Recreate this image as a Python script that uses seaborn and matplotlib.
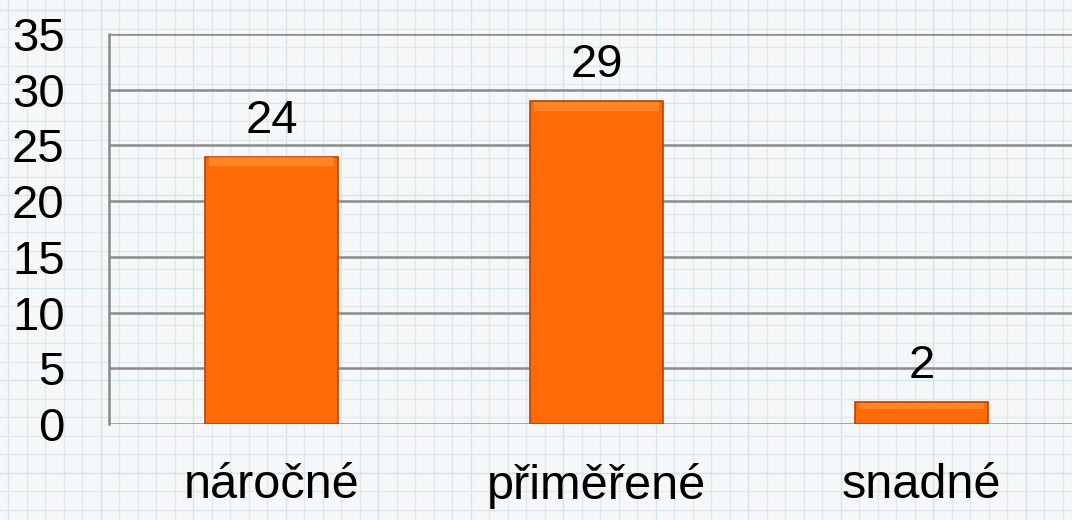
import matplotlib
matplotlib.use('Agg')
import matplotlib.pyplot as plt
import numpy as np
import pandas as pd
import seaborn as sns

categories = ['náročné', 'přiměřené', 'snadné']
values = [24, 29, 2]
y_ticks = [0, 5, 10, 15, 20, 25, 30, 35]

sns.set_theme(style='white')
plt.rcParams['font.family'] = ['Liberation Sans', 'DejaVu Sans']

fig = plt.figure(figsize=(10.72, 5.2), dpi=100)
fig.patch.set_facecolor('#f5f7f8')

# grid-paper background
bg = fig.add_axes([0, 0, 1, 1], zorder=0)
bg.set_xlim(0, 1072)
bg.set_ylim(520, 0)
bg.axis('off')
for i, x in enumerate(np.arange(8, 1072, 18.5)):
    bg.axvline(x, color='#dde9ed' if i % 5 else '#d2e3e9', lw=1.0)
for i, y in enumerate(np.arange(10, 520, 18.5)):
    bg.axhline(y, color='#dde9ed' if i % 5 else '#d2e3e9', lw=1.0)

ax = fig.add_axes([109 / 1072, 96 / 520, 1 - 109 / 1072, 390 / 520], zorder=1)
ax.patch.set_alpha(0)

df = pd.DataFrame({'cat': categories, 'val': values})
sns.barplot(data=df, x='cat', y='val', ax=ax, color='#ff6a08', width=0.41,
            edgecolor='#b84300', linewidth=1.2, saturation=1)

# soft highlight near bar tops
for p in list(ax.patches):
    x0, w, h = p.get_x(), p.get_width(), p.get_height()
    hh = min(0.8, h * 0.3)
    ax.bar(x0 + w / 2, hh, width=w * 0.94, bottom=h - hh - 0.08,
           color='#ff9a3c', alpha=0.55, linewidth=0, zorder=3)

for p, v in zip(ax.patches, values):
    ax.text(p.get_x() + p.get_width() / 2, v + 1.2, str(v), ha='center', va='bottom',
            fontsize=34, color='black')

ax.set_ylim(0, 35)
ax.set_xlim(-0.5, 2.463)
ax.set_yticks(y_ticks)
ax.set_yticklabels([str(t) for t in y_ticks], fontsize=34, color='black')
ax.tick_params(axis='y', length=0, pad=32, colors='black')
ax.tick_params(axis='x', length=0, pad=28, labelsize=35, colors='black')
ax.yaxis.grid(True, color='#8a8a8a', lw=1.8)
ax.set_axisbelow(True)
ax.set_xlabel('')
ax.set_ylabel('')
for s in ['top', 'right', 'bottom']:
    ax.spines[s].set_visible(False)
ax.spines['left'].set_color('#8a8a8a')
ax.spines['left'].set_linewidth(1.8)

fig.savefig('out.png', dpi=100, facecolor=fig.get_facecolor())
